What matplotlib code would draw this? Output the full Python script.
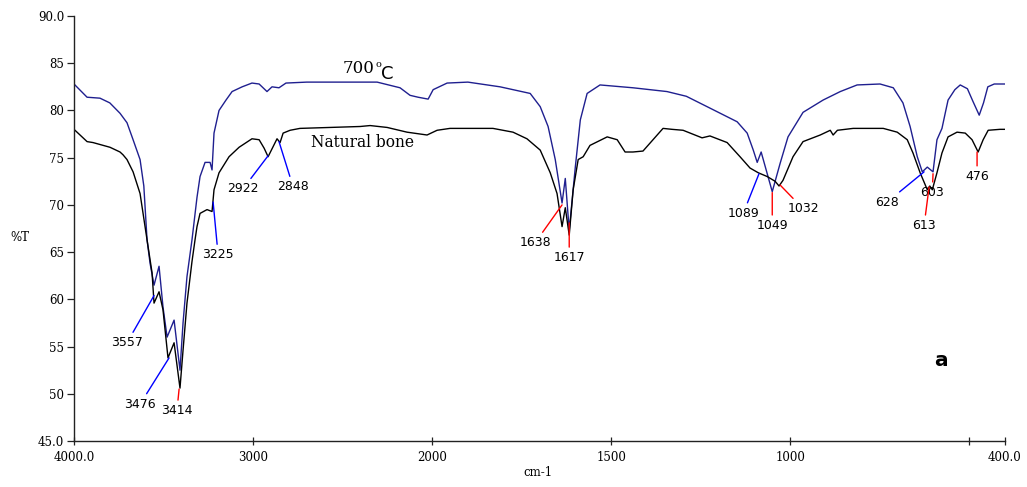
import numpy as np
import matplotlib
matplotlib.use("Agg")
import matplotlib.pyplot as plt

# spectrum 700 C (dark blue)
wn_700 = [4000, 3927, 3855, 3800, 3743, 3704, 3670, 3631, 3610, 3592, 3575, 3553,
          3525, 3503, 3480, 3441, 3408, 3391, 3369, 3341, 3313, 3296, 3268, 3240,
          3229, 3218, 3190, 3151, 3117, 3061, 3006, 2966, 2922, 2894, 2855, 2816,
          2700, 2500, 2307, 2179, 2123, 2078, 2022, 1997, 1958, 1900, 1810, 1726,
          1698, 1676, 1656, 1637, 1628, 1617, 1600, 1586, 1567, 1531, 1439, 1344,
          1290, 1232, 1148, 1120, 1103, 1092, 1081, 1050, 1028, 1006, 964, 908,
          860, 813, 749, 712, 685, 665, 645, 631, 617, 601, 590, 576, 567, 559,
          540, 525, 505, 490, 472, 460, 448, 430, 400]
t_700 = [82.8, 81.4, 81.3, 80.8, 79.7, 78.7, 76.9, 74.8, 72.0, 66.3, 63.8, 61.5,
         63.5, 59.2, 56.0, 57.8, 52.5, 57.5, 62.4, 66.3, 70.8, 73.0, 74.5, 74.5,
         73.7, 77.6, 80.0, 81.1, 82.0, 82.5, 82.9, 82.8, 82.0, 82.5, 82.4, 82.9,
         83.0, 83.0, 83.0, 82.4, 81.6, 81.4, 81.2, 82.2, 82.9, 83.0, 82.5, 81.8,
         80.4, 78.3, 74.8, 70.2, 72.8, 67.3, 74.0, 79.0, 81.8, 82.7, 82.4, 82.0,
         81.5, 80.4, 78.8, 77.6, 75.8, 74.5, 75.6, 71.4, 74.4, 77.2, 79.8, 81.1,
         82.0, 82.7, 82.8, 82.4, 80.8, 78.3, 75.1, 73.5, 74.0, 73.5, 76.9, 78.1,
         79.7, 81.1, 82.2, 82.7, 82.3, 81.0, 79.5, 80.8, 82.5, 82.8, 82.8]

# natural bone (black)
wn_bone = [4000, 3927, 3894, 3799, 3743, 3726, 3704, 3670, 3631, 3592, 3564, 3553,
           3525, 3503, 3475, 3441, 3408, 3391, 3369, 3341, 3324, 3313, 3296, 3257,
           3229, 3218, 3190, 3134, 3078, 3006, 2966, 2938, 2916, 2866, 2849, 2832,
           2793, 2738, 2402, 2346, 2251, 2140, 2028, 1986, 1950, 1830, 1774, 1735,
           1698, 1670, 1651, 1637, 1628, 1617, 1606, 1592, 1578, 1559, 1511, 1483,
           1461, 1439, 1411, 1383, 1355, 1330, 1299, 1246, 1224, 1176, 1140, 1112,
           1089, 1064, 1042, 1031, 1020, 992, 964, 916, 888, 880, 868, 824, 740,
           701, 673, 657, 637, 617, 610, 603, 590, 576, 559, 534, 511, 492, 475,
           461, 447, 414, 400]
t_bone = [78.0, 76.7, 76.6, 76.1, 75.6, 75.3, 74.8, 73.5, 71.2, 66.3, 62.8, 59.6,
          60.8, 58.9, 53.8, 55.4, 50.6, 54.6, 59.6, 64.0, 66.3, 67.7, 69.1, 69.5,
          69.3, 71.6, 73.4, 75.1, 76.1, 77.0, 76.9, 76.0, 75.1, 77.0, 76.6, 77.6,
          77.9, 78.1, 78.3, 78.4, 78.2, 77.7, 77.4, 77.9, 78.1, 78.1, 77.7, 77.0,
          75.8, 73.4, 71.2, 67.7, 69.7, 66.8, 71.6, 74.8, 75.1, 76.3, 77.2, 76.9,
          75.6, 75.6, 75.7, 76.9, 78.1, 78.0, 77.9, 77.1, 77.3, 76.6, 75.1, 73.9,
          73.4, 73.0, 72.5, 72.0, 72.6, 75.1, 76.7, 77.4, 77.9, 77.4, 77.9, 78.1,
          78.1, 77.7, 76.9, 75.5, 73.4, 71.6, 72.0, 71.6, 73.4, 75.5, 77.2, 77.7,
          77.6, 76.9, 75.6, 76.9, 77.9, 78.0, 78.0]

# peak labels: text, point on curve (wn, %T), text position (wn, %T), line colour
peaks = [
    ("3557", (3553, 60.4), (3704, 55.4), "blue"),
    ("3476", (3469, 53.8), (3631, 48.9), "blue"),
    ("3414", (3413, 50.5), (3425, 48.2), "red"),
    ("3225", (3223, 70.3), (3195, 64.7), "blue"),
    ("2922", (2916, 75.2), (3056, 71.7), "blue"),
    ("2848", (2855, 76.7), (2776, 71.9), "blue"),
    ("1638", (1637, 70.0), (1712, 66.0), "red"),
    ("1617", (1617, 68.1), (1617, 64.4), "red"),
    ("1089", (1087, 73.3), (1131, 69.1), "blue"),
    ("1049", (1050, 71.3), (1050, 67.8), "red"),
    ("1032", (1028, 72.1), (964, 69.6), "red"),
    ("628", (626, 73.5), (729, 70.3), "blue"),
    ("603", (601, 73.3), (603, 71.3), "red"),
    ("613", (612, 71.9), (626, 67.8), "red"),
    ("476", (478, 75.6), (478, 73.0), "red"),
]

x_ticks = [4000, 3000, 2000, 1500, 1000, 500, 400]
x_labels = ["4000.0", "3000", "2000", "1500", "1000", "", "400.0"]
y_ticks = [45, 50, 55, 60, 65, 70, 75, 80, 85, 90]
y_labels = ["45.0", "50", "55", "60", "65", "70", "75", "80", "85", "90.0"]


# instrument axis: 2x expansion below 2000 cm-1
def fwd(x):
    x = np.asarray(x, dtype=float)
    return np.where(x >= 2000, x, 2 * x - 2000)


def inv(y):
    y = np.asarray(y, dtype=float)
    return np.where(y >= 2000, y, (y + 2000) / 2)


W, H = 1027, 487
fig = plt.figure(figsize=(W / 100, H / 100), dpi=100)
ax = fig.add_axes([74 / W, 1 - 441 / H, 931 / W, 425 / H])
ax.set_xscale("function", functions=(fwd, inv))

ax.plot(wn_700, t_700, color="#1f1f8f", lw=1.0)
ax.plot(wn_bone, t_bone, color="black", lw=1.0)

ax.set_xlim(4000, 400)
ax.set_ylim(45, 90)

serif = "DejaVu Serif"
sans = "DejaVu Sans"

ax.set_xticks(x_ticks)
ax.set_xticklabels(x_labels, family=serif, fontsize=8.5)
ax.set_yticks(y_ticks)
ax.set_yticklabels(y_labels, family=serif, fontsize=8.5)
ax.xaxis.set_minor_locator(matplotlib.ticker.NullLocator())
ax.yaxis.set_minor_locator(matplotlib.ticker.NullLocator())
ax.tick_params(axis="x", direction="inout", length=6, width=0.9, pad=4, colors="#222222", labelcolor="black")
ax.tick_params(axis="y", direction="out", length=5, width=0.9, pad=2, colors="#222222", labelcolor="black")

for s in ["top", "right"]:
    ax.spines[s].set_visible(False)
for s in ["left", "bottom"]:
    ax.spines[s].set_linewidth(1.0)
    ax.spines[s].set_color("#222222")

for label, xy, xyt, col in peaks:
    ax.annotate(label, xy=xy, xytext=xyt, ha="center", va="center",
                fontsize=9, family=sans, color="black",
                arrowprops=dict(arrowstyle="-", color=col, lw=1.0,
                                shrinkA=1, shrinkB=0))

# curve labels
ax.text(2497, 84.4, "700", family=serif, fontsize=12, ha="left", va="center")
ax.text(2301, 84.9, "o", family=serif, fontsize=7, ha="center", va="center")
ax.text(2283, 83.9, "C", family=sans, fontsize=13, ha="left", va="center")
ax.text(2676, 76.6, "Natural bone", family=serif, fontsize=11.2, ha="left", va="center")

fig.text(20 / W, 1 - 237 / H, "%T", family=serif, fontsize=8.5, ha="center", va="center")
fig.text(538 / W, 1 - 473 / H, "cm-1", family=serif, fontsize=8.5, ha="center", va="center")
fig.text(941 / W, 1 - 361 / H, "a", family=sans, fontsize=14.5, fontweight="bold",
         ha="center", va="center")

fig.savefig("out.png", dpi=100)
